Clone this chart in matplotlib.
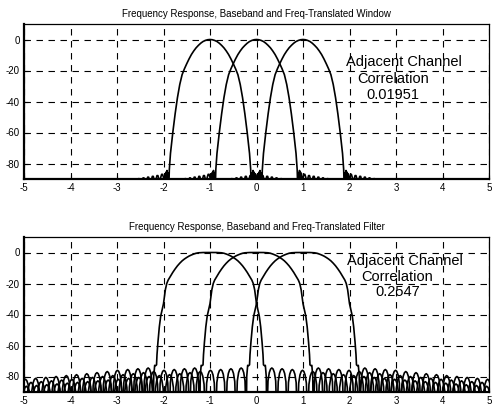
import numpy as np
import matplotlib
matplotlib.use("Agg")
import matplotlib.pyplot as plt

plt.rcParams['font.family'] = ['Liberation Sans', 'DejaVu Sans']

# ---------------- data ----------------
centers = [-1, 0, 1]  # channel centre frequencies

# Window spectrum (baseband), positive-frequency half, dB
win_x = [0, 0.05, 0.1, 0.15, 0.2, 0.25, 0.3, 0.35, 0.4, 0.45, 0.5, 0.55, 0.6,
         0.65, 0.7, 0.75, 0.8, 0.85, 0.875, 0.89,
         0.905, 0.915, 0.925, 0.935, 0.945, 0.955, 0.965, 0.975,
         1.00, 1.02, 1.04, 1.06, 1.08, 1.10, 1.12, 1.14, 1.16, 1.18,
         1.20, 1.22, 1.24, 1.26, 1.28, 1.30, 1.32, 1.34, 1.36, 1.38,
         1.40, 1.42, 1.44, 1.46, 1.48, 1.50, 1.52, 1.54, 1.56, 1.58, 2.5]
win_db = [0, -0.15, -0.6, -1.3, -2.4, -3.8, -5.4, -7.4, -9.7, -12.5, -15.6, -18.9, -22.7,
          -29.0, -37.5, -48, -60, -73.5, -84, -100,
          -86, -97, -84.5, -95, -85.5, -97, -86.5, -100,
          -89, -87, -87, -89, -100, -90, -87.8, -87.8, -90, -100,
          -90.5, -88.3, -88.3, -90.5, -100, -91, -88.8, -88.8, -91, -100,
          -91.5, -89.3, -89.3, -91.5, -100, -92, -89.8, -89.8, -92, -100, -100]

# Filter spectrum (baseband), positive-frequency half: main lobe, dB
filt_x_main = [0, 0.05, 0.1, 0.15, 0.2, 0.25, 0.3, 0.35, 0.4, 0.45, 0.5, 0.55, 0.6,
               0.65, 0.7, 0.75, 0.8, 0.85, 0.9, 0.93, 0.96, 1.0, 1.03, 1.06, 1.09,
               1.12, 1.14, 1.15, 1.17, 1.19, 1.21]
filt_db_main = [0, 0, 0, -0.02, -0.08, -0.2, -0.5, -1.0, -1.6, -2.3, -3.2, -4.2, -5.4,
                -6.9, -8.6, -10.6, -12.8, -15.3, -17.8, -20, -24, -33, -37, -41, -48,
                -58, -66, -72.5, -73, -72.8, -80]

# Filter sidelobes sampled every 0.0275 starting at 1.22, dB
side_start = 1.22
side_step = 0.0275
filt_db_side = [
    -110, -82.8, -77.5, -75.2, -74.5, -75.2, -77.5, -82.8,
    -110, -83.3, -78.0, -75.7, -75.0, -75.7, -78.0, -83.3,
    -110, -83.8, -78.5, -76.2, -75.5, -76.2, -78.5, -83.8,
    -110, -84.3, -79.0, -76.7, -76.0, -76.7, -79.0, -84.3,
    -110, -85.1, -79.8, -77.5, -76.8, -77.5, -79.8, -85.1,
    -110, -85.8, -80.5, -78.2, -77.5, -78.2, -80.5, -85.8,
    -110, -86.5, -81.2, -78.9, -78.2, -78.9, -81.2, -86.5,
    -110, -87.1, -81.8, -79.5, -78.8, -79.5, -81.8, -87.1,
    -110, -87.7, -82.4, -80.1, -79.4, -80.1, -82.4, -87.7,
    -110, -88.3, -83.0, -80.7, -80.0, -80.7, -83.0, -88.3,
    -110, -88.9, -83.6, -81.3, -80.6, -81.3, -83.6, -88.9,
    -110, -89.5, -84.2, -81.9, -81.2, -81.9, -84.2, -89.5,
    -110, -90.1, -84.8, -82.5, -81.8, -82.5, -84.8, -90.1,
    -110, -90.6, -85.3, -83.0, -82.3, -83.0, -85.3, -90.6,
    -110, -91.1, -85.8, -83.5, -82.8, -83.5, -85.8, -91.1,
    -110, -91.6, -86.3, -84.0, -83.3, -84.0, -86.3, -91.6,
    -110, -92.1, -86.8, -84.5, -83.8, -84.5, -86.8, -92.1,
    -110, -92.6, -87.3, -85.0, -84.3, -85.0, -87.3, -92.6,
    -110, -93.1, -87.8, -85.5, -84.8, -85.5, -87.8, -93.1,
    -110, -93.6, -88.3, -86.0, -85.3, -86.0, -88.3, -93.6,
    -110, -94.1, -88.8, -86.5, -85.8, -86.5, -88.8, -94.1,
    -110, -94.6, -89.3, -87.0, -86.3, -87.0, -89.3, -94.6,
]

x_ticks = [-5, -4, -3, -2, -1, 0, 1, 2, 3, 4, 5]
y_ticks = [-80, -60, -40, -20, 0]

titles = ["Frequency Response, Baseband and Freq-Translated Window",
          "Frequency Response, Baseband and Freq-Translated Filter"]
corr_values = ["0.01951", "0.2547"]


def mirror(x, y):
    x = np.asarray(x, float)
    y = np.asarray(y, float)
    return (np.concatenate([-x[::-1], x[1:]]),
            np.concatenate([y[::-1], y[1:]]))


wx, wy = mirror(win_x, win_db)
side_x = side_start + side_step * np.arange(len(filt_db_side))
fx, fy = mirror(np.concatenate([filt_x_main, side_x]),
                np.concatenate([filt_db_main, filt_db_side]))

# ---------------- figure ----------------
W, H = 492, 407
fig = plt.figure(figsize=(W / 100, H / 100), dpi=100)

ax_pos = [
    [24 / W, 1 - 179 / H, 465 / W, 155 / H],
    [24 / W, 1 - 392 / H, 465 / W, 155 / H],
]

text_cfg = [
    [(1.93, -14.2, "Adjacent Channel"), (2.17, -25.2, "Correlation"), (2.36, -36.1, corr_values[0])],
    [(1.95, -5.2, "Adjacent Channel"), (2.26, -15.5, "Correlation"), (2.55, -25.6, corr_values[1])],
]

curves = [(wx, wy), (fx, fy)]

for i in range(2):
    ax = fig.add_axes(ax_pos[i])
    cx, cy = curves[i]
    for c in centers:
        ax.plot(cx + c, cy, color='black', linewidth=1.2, zorder=3)
    ax.set_xlim(-5, 5)
    ax.set_ylim(-90, 10)
    ax.set_xticks(x_ticks)
    ax.set_yticks(y_ticks)
    ax.set_xticklabels([str(t) for t in x_ticks])
    ax.set_yticklabels([str(t) for t in y_ticks])
    ax.tick_params(direction='in', length=3, width=0.8, labelsize=7, pad=3, colors='black')
    ax.grid(True, color='black', linestyle=(0, (5.8, 5.0)), linewidth=0.8)
    ax.set_axisbelow(True)
    for s in ['top', 'right']:
        ax.spines[s].set_linewidth(0.9)
    for s in ['left', 'bottom']:
        ax.spines[s].set_linewidth(1.6)
    ax.set_title(titles[i], fontsize=7, pad=5)
    for (tx, ty, tt) in text_cfg[i]:
        ax.text(tx, ty, tt, fontsize=10.5, ha='left', va='center', zorder=4)

fig.savefig("out.png", dpi=100)
